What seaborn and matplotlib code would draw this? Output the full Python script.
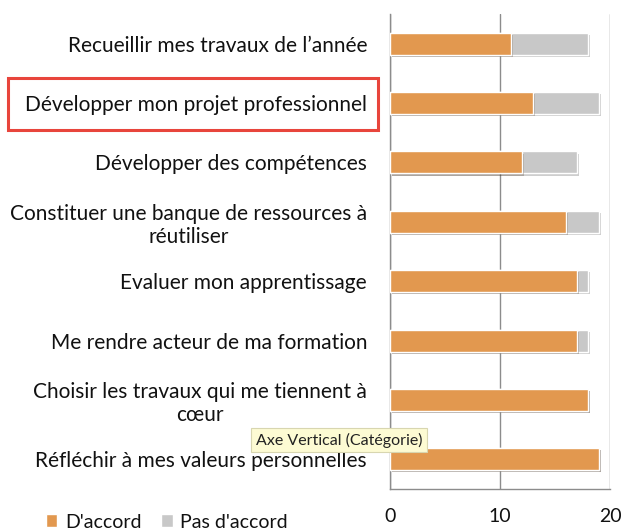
import pandas as pd
import matplotlib.pyplot as plt
import seaborn as sns
import numpy as np
from matplotlib.patches import Rectangle, Patch
import matplotlib.patheffects as pe

categories = ["Recueillir mes travaux de l\u2019année",
              "Développer mon projet professionnel",
              "Développer des compétences",
              "Constituer une banque de ressources à\nréutiliser",
              "Evaluer mon apprentissage",
              "Me rendre acteur de ma formation",
              "Choisir les travaux qui me tiennent à\ncœur",
              "Réfléchir à mes valeurs personnelles"]
accord = [11, 13, 12, 16, 17, 17, 18, 19]
pas_accord = [7, 6, 5, 3, 1, 1, 0, 0]

orange = '#e2984f'
gris = '#c8c8c8'

df = pd.DataFrame({'cat': categories, 'accord': accord, 'pas': pas_accord})
df['total'] = df['accord'] + df['pas']

sns.set_style('white')
plt.rcParams['font.family'] = ['Lato', 'DejaVu Sans']

fig = plt.figure(figsize=(6.24, 5.29), dpi=100)
ax = fig.add_axes([0.625, 0.0756, 0.3526, 0.8979])

shadow = [pe.SimplePatchShadow(offset=(1.5, -1.5), alpha=0.25), pe.Normal()]
sns.barplot(data=df, y='cat', x='total', color=gris, width=0.37, orient='h',
            saturation=1, ax=ax, zorder=3)
sns.barplot(data=df, y='cat', x='accord', color=orange, width=0.37, orient='h',
            saturation=1, ax=ax, zorder=4)
for p in ax.patches:
    p.set_path_effects(shadow)

ax.set_xlim(0, 20)
ax.set_ylim(len(categories) - 0.5, -0.5)
ax.set_xticks([0, 10, 20])
ax.set_xlabel('')
ax.set_ylabel('')
ax.xaxis.grid(True, color='#8c8c8c', linewidth=1, zorder=0)
ax.set_axisbelow(True)
for s in ['top', 'right']:
    ax.spines[s].set_visible(False)
for s in ['left', 'bottom']:
    ax.spines[s].set_color('#8c8c8c')
    ax.spines[s].set_linewidth(1)

ax.set_yticks(np.arange(len(categories)))
ax.set_yticklabels(categories, fontsize=15, multialignment='center', color='#111111')
ax.tick_params(axis='y', length=0, pad=16.5)
ax.set_yticks(np.arange(-0.5, len(categories), 1), minor=True)
ax.tick_params(axis='y', which='minor', length=5, color='#8c8c8c', direction='out')
ax.tick_params(axis='x', length=6, color='#8c8c8c', direction='out', labelsize=14,
               pad=8, labelcolor='#111111')

# red highlight box around the second label
fig.patches.append(Rectangle((8 / 624, 1 - 130 / 529), 370 / 624, 52 / 529,
                             transform=fig.transFigure, fill=False,
                             edgecolor='#e8453c', linewidth=2.2, zorder=10))

# tooltip
fig.text(256 / 624, 1 - 440 / 529, 'Axe Vertical (Catégorie)', fontsize=11.5,
         va='center', ha='left', color='#222222', zorder=12,
         bbox=dict(boxstyle='square,pad=0.3', facecolor='#fdfbd3',
                   edgecolor='#d8d6b0', linewidth=0.8))

handles = [Patch(facecolor=orange, label="D'accord"),
           Patch(facecolor=gris, label="Pas d'accord")]
fig.legend(handles=handles, loc='center left', bbox_to_anchor=(28 / 624, 1 - 522 / 529),
           ncol=2, frameon=False, fontsize=14, handlelength=0.6, handleheight=0.6,
           handletextpad=0.4, columnspacing=1.0, labelcolor='#111111')

fig.savefig('out.png', dpi=100)
